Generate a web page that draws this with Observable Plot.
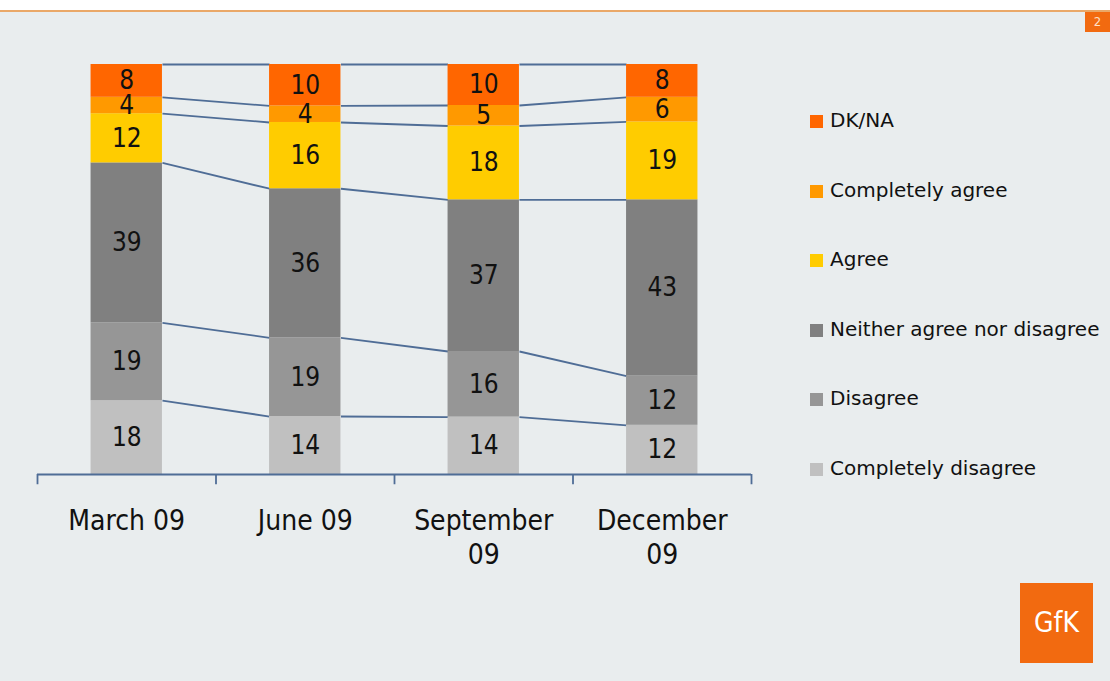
<!DOCTYPE html>
<html><head><meta charset="utf-8">
<script src="https://cdn.jsdelivr.net/npm/d3@7"></script>
<script src="https://cdn.jsdelivr.net/npm/@observablehq/plot@0.6"></script>
<style>
html,body{margin:0;padding:0;width:1110px;height:681px;overflow:hidden;background:#fff;font-family:"DejaVu Sans Condensed","DejaVu Sans",sans-serif;font-stretch:condensed;}
#page{position:absolute;left:0;top:10px;width:1110px;height:671px;background:#e9edee;border-top:2px solid #eaa868;}
#chart{position:absolute;left:0;top:0;}
#pagenum{position:absolute;left:1085px;top:12px;width:25px;height:20px;background:#f26a10;color:#ffe0c8;font-size:13px;line-height:20px;text-align:center;}
#legend{position:absolute;left:810px;top:0;width:300px;height:681px;white-space:nowrap;overflow:hidden;}
.item{position:absolute;left:0;height:24px;line-height:24px;font-size:20px;color:#111;font-family:"DejaVu Sans",sans-serif;font-stretch:normal;letter-spacing:0px;}
.sw{display:inline-block;width:13px;height:13px;margin-right:7px;vertical-align:-1px;}
#logo{position:absolute;left:1020px;top:583px;width:73px;height:80px;background:#f26a10;color:#fff;font-size:28px;line-height:80px;text-align:center;}
</style></head>
<body>
<div id="page"></div>
<div id="pagenum">2</div>
<div id="chart"></div>
<div id="legend"></div>
<div id="logo">GfK</div>
<script>
const categories = ["March 09", "June 09", "September 09", "December 09"];
const tickLabels = ["March 09", "June 09", "September\n09", "December\n09"];
// bottom to top
const series = ["Completely disagree", "Disagree", "Neither agree nor disagree", "Agree", "Completely agree", "DK/NA"];
const completelyDisagree = [18, 14, 14, 12];
const disagree = [19, 19, 16, 12];
const neither = [39, 36, 37, 43];
const agree = [12, 16, 18, 19];
const completelyAgree = [4, 4, 5, 6];
const dkna = [8, 10, 10, 8];
const colors = ["#c0c0c0", "#969696", "#808080", "#ffcc00", "#ff9900", "#ff6600"];

const values = [completelyDisagree, disagree, neither, agree, completelyAgree, dkna];
const half = 0.2; // half bar width in band steps

// normalized stacking
const rows = [];
const tops = series.map(() => []);
categories.forEach((c, i) => {
  const total = d3.sum(values, v => v[i]);
  let acc = 0;
  series.forEach((s, j) => {
    const v = values[j][i];
    const y1 = acc / total;
    acc += v;
    const y2 = acc / total;
    rows.push({i, cat: c, series: s, value: v, y1, y2, color: colors[j]});
    tops[j][i] = y2;
  });
});
const links = [];
series.forEach((s, j) => {
  for (let i = 0; i < categories.length - 1; i++) {
    links.push({x1: i + half, x2: i + 1 - half, y1: tops[j][i], y2: tops[j][i + 1]});
  }
});
const seps = d3.range(categories.length + 1).map(k => k - 0.5);

const lineColor = "#4f6d96";
const plot = Plot.plot({
  width: 1110,
  height: 600,
  marginLeft: 37,
  marginRight: 359,
  marginTop: 64,
  marginBottom: 126,
  style: {background: "transparent", fontFamily: "'DejaVu Sans Condensed','DejaVu Sans',sans-serif", color: "#111"},
  x: {domain: [-0.5, categories.length - 0.5]},
  y: {domain: [0, 1], axis: null},
  marks: [
    Plot.link(links, {x1: "x1", x2: "x2", y1: "y1", y2: "y2", stroke: lineColor, strokeWidth: 1.8}),
    Plot.rect(rows, {x1: d => d.i - half, x2: d => d.i + half, y1: "y1", y2: "y2", fill: "color"}),
    Plot.text(rows, {x: "i", y: d => (d.y1 + d.y2) / 2, text: "value", fill: "#111", fontSize: 26}),
    Plot.ruleY([0], {stroke: lineColor, strokeWidth: 1.8}),
    Plot.ruleX(seps, {x: d => d, y1: 0, y2: -0.025, stroke: lineColor, strokeWidth: 1.8}),
    Plot.axisX({ticks: d3.range(categories.length), tickFormat: i => tickLabels[i], tickSize: 0, tickPadding: 31, fontSize: 28, lineHeight: 1.22, label: null})
  ]
});
document.getElementById("chart").appendChild(plot);

const legendY = [120, 190, 259, 329, 398, 468];
const legend = document.getElementById("legend");
series.slice().reverse().forEach((s, k) => {
  const j = series.length - 1 - k;
  const el = document.createElement("div");
  el.className = "item";
  el.style.top = (legendY[k] - 12) + "px";
  el.innerHTML = `<span class="sw" style="background:${colors[j]}"></span>${s}`;
  legend.appendChild(el);
});
</script>
</body></html>
